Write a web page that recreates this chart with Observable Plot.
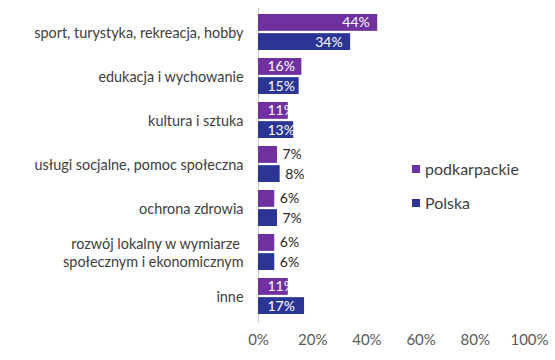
<!DOCTYPE html>
<html>
<head>
<meta charset="utf-8">
<script src="https://cdn.jsdelivr.net/npm/d3@7"></script>
<script src="https://cdn.jsdelivr.net/npm/@observablehq/plot@0.6"></script>
<style>
  body { margin: 0; background: #fff; }
  #wrap { position: relative; width: 555px; height: 360px; font-family: Lato, sans-serif; }
  .leg { position: absolute; left: 412px; font-size: 16px; color: #404040; display: flex; align-items: center; line-height: 1; }
  .leg span.sw { display: inline-block; width: 8px; height: 8px; margin-right: 5px; }
</style>
</head>
<body>
<div id="wrap"></div>
<script>
const categories = [
  "sport, turystyka, rekreacja, hobby",
  "edukacja i wychowanie",
  "kultura i sztuka",
  "usługi socjalne, pomoc społeczna",
  "ochrona zdrowia",
  "rozwój lokalny w wymiarze \nspołecznym i ekonomicznym",
  "inne"
];
const series = ["podkarpackie", "Polska"];
const podkarpackie = [44, 16, 11, 7, 6, 6, 11];
const polska = [34, 15, 13, 8, 7, 6, 17];
const xTicks = [0, 20, 40, 60, 80, 100];
const colors = ["#7030a0", "#2b3593"];

const data = [];
categories.forEach((c, i) => {
  data.push({cat: c, series: series[0], value: podkarpackie[i]});
  data.push({cat: c, series: series[1], value: polska[i]});
});

const W = 555, H = 360, mTop = 13, mBottom = 45;
const pad = 0.18;
const bw = (H - mTop - mBottom) / (categories.length - pad) * (1 - pad);
const half = bw / 2 + 1;
const off = bw / 4 + 0.5;

const marks = [];
marks.push(Plot.ruleX([0], {stroke: "#d9d9d9", strokeWidth: 1.5, insetTop: -5, insetBottom: -8}));
series.forEach((s, k) => {
  const sub = data.filter(d => d.series === s);
  const dy = k === 0 ? -off : off;
  marks.push(Plot.barX(sub, {
    y: "cat", x: "value", fill: colors[k],
    insetTop: k === 0 ? 0 : half, insetBottom: k === 0 ? half : 0
  }));
  // long bars: label at the inner end
  marks.push(Plot.text(sub.filter(d => d.value >= 20), {
    y: "cat", x: "value", text: d => d.value + "%", fill: "white",
    textAnchor: "end", dx: -8, dy, fontSize: 14
  }));
  // medium bars: label pushed to the bar start (overflow hidden in white)
  marks.push(Plot.text(sub.filter(d => d.value >= 10 && d.value < 20), {
    y: "cat", x: 0, text: d => d.value + "%", fill: "white",
    textAnchor: "start", dx: 9, dy, fontSize: 14
  }));
  // short bars: label outside
  marks.push(Plot.text(sub.filter(d => d.value < 10), {
    y: "cat", x: "value", text: d => d.value + "%", fill: "#262626",
    textAnchor: "start", dx: 5, dy, fontSize: 14
  }));
});
marks.push(Plot.axisY({tickSize: 0, tickPadding: 15, fontSize: 14.4, lineHeight: 1.25, fill: "#404040", label: null}));
marks.push(Plot.axisX({ticks: xTicks, tickFormat: d => d + "%", tickSize: 0, tickPadding: 19, fontSize: 15, fill: "#595959", label: null}));

const chart = Plot.plot({
  width: W, height: H,
  marginLeft: 258, marginRight: 26, marginTop: mTop, marginBottom: mBottom,
  style: {fontFamily: "Lato, sans-serif", fontSize: "14px", color: "#404040", background: "white"},
  x: {domain: [0, 100]},
  y: {domain: categories, padding: pad, paddingOuter: 0, align: 0.5},
  marks
});
const wrap = document.getElementById("wrap");
wrap.appendChild(chart);

series.forEach((s, k) => {
  const d = document.createElement("div");
  d.className = "leg";
  d.style.top = (k === 0 ? 161 : 195) + "px";
  d.innerHTML = `<span class="sw" style="background:${colors[k]}"></span>${s}`;
  wrap.appendChild(d);
});
</script>
</body>
</html>
